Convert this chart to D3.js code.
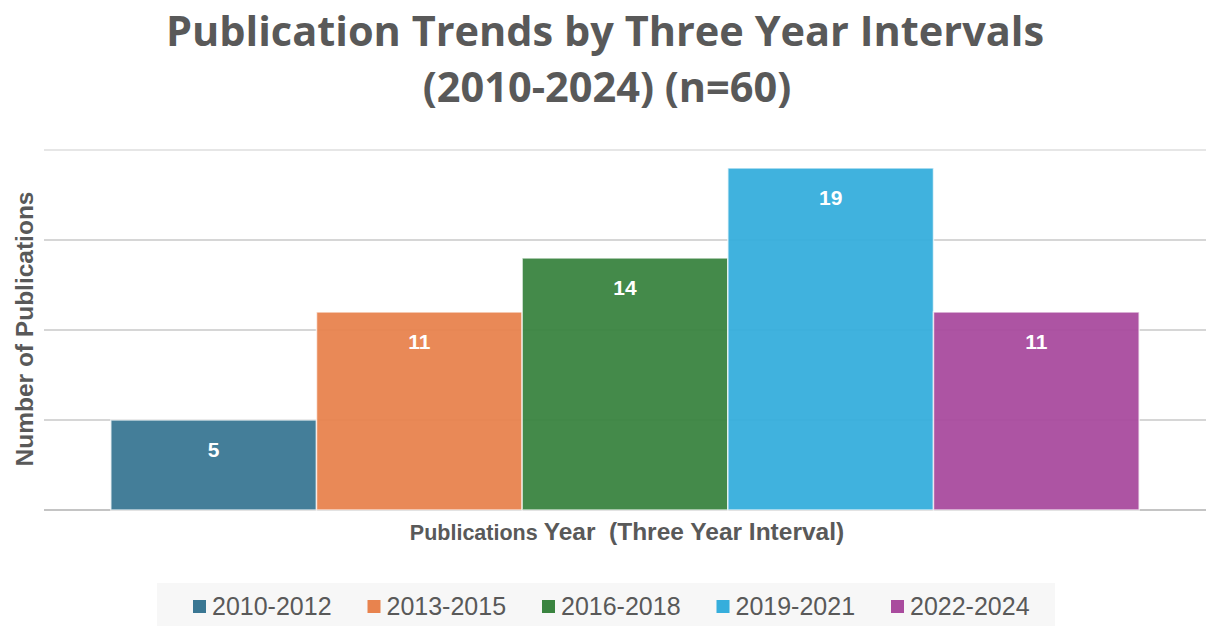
<!DOCTYPE html>
<html>
<head>
<meta charset="utf-8">
<script src="https://cdn.jsdelivr.net/npm/d3@7"></script>
<style>
  html, body { margin: 0; padding: 0; background: #ffffff; }
  svg { display: block; }
</style>
</head>
<body>
<svg id="chart" width="1206" height="626"></svg>
<script>
// Publication counts per three-year interval
const intervals = ["2010-2012", "2013-2015", "2016-2018", "2019-2021", "2022-2024"];
const counts = [5, 11, 14, 19, 11];
const barColors = ["#3a7793", "#e8834e", "#3a8440", "#36aedc", "#a94b9e"];
const yTicks = [0, 5, 10, 15, 20];

const textColor = "#595959";
const titleFont = "'Open Sans', 'Liberation Sans', sans-serif";
const font = "'Liberation Sans', Arial, sans-serif";

const svg = d3.select("#chart");

const plot = { left: 44, right: 1206, top: 150, bottom: 510 };

const x = d3.scaleBand()
  .domain(intervals)
  .range([plot.left, plot.right])
  .paddingInner(0)
  .paddingOuter(0.325);

const y = d3.scaleLinear()
  .domain([0, 20])
  .range([plot.bottom, plot.top]);

// Title
const title = svg.append("text")
  .attr("text-anchor", "middle")
  .attr("font-family", titleFont)
  .attr("font-weight", 700)
  .attr("font-size", 41.5)
  .attr("fill", textColor);
title.append("tspan").attr("x", 605).attr("y", 46).text("Publication Trends by Three Year Intervals");
title.append("tspan").attr("x", 607).attr("y", 102).text("(2010-2024) (n=60)");

// Horizontal gridlines
svg.append("g")
  .selectAll("line")
  .data(yTicks)
  .join("line")
  .attr("x1", plot.left)
  .attr("x2", plot.right)
  .attr("y1", d => y(d))
  .attr("y2", d => y(d))
  .attr("stroke", d => d === 20 ? "#e6e6e6" : (d === 0 ? "#c4c4c4" : "#d6d6d6"))
  .attr("stroke-width", 2);

// Bars
svg.append("g")
  .selectAll("rect")
  .data(intervals)
  .join("rect")
  .attr("x", d => x(d))
  .attr("width", x.bandwidth())
  .attr("y", (d, i) => y(counts[i]))
  .attr("height", (d, i) => y(0) - y(counts[i]))
  .attr("fill", (d, i) => barColors[i])
  .attr("fill-opacity", 0.95)
  .attr("stroke", "#ffffff")
  .attr("stroke-opacity", 0.7)
  .attr("stroke-width", 1.5);

// Value labels inside bars
svg.append("g")
  .selectAll("text")
  .data(intervals)
  .join("text")
  .attr("x", d => x(d) + x.bandwidth() / 2)
  .attr("y", (d, i) => y(counts[i]) + 37)
  .attr("text-anchor", "middle")
  .attr("font-family", font)
  .attr("font-weight", 700)
  .attr("font-size", 21)
  .attr("fill", "#ffffff")
  .text((d, i) => counts[i]);

// Y axis title
svg.append("text")
  .attr("transform", "translate(33,329) rotate(-90)")
  .attr("text-anchor", "middle")
  .attr("font-family", font)
  .attr("font-weight", 700)
  .attr("font-size", 24.5)
  .attr("fill", textColor)
  .text("Number of Publications");

// X axis title
const xt = svg.append("text")
  .attr("x", 627)
  .attr("y", 540)
  .attr("text-anchor", "middle")
  .attr("font-family", font)
  .attr("font-weight", 700)
  .attr("fill", textColor)
  .style("white-space", "pre");
xt.append("tspan").attr("font-size", 21.5).text("Publications ");
xt.append("tspan").attr("font-size", 24.5).text("Year  (Three Year Interval)");

// Legend
const legend = svg.append("g");
legend.append("rect")
  .attr("x", 157).attr("y", 583)
  .attr("width", 898).attr("height", 43)
  .attr("fill", "#f7f7f7");

const legendX = d3.scalePoint()
  .domain(intervals)
  .range([193, 891]);

const items = legend.selectAll("g.item")
  .data(intervals)
  .join("g")
  .attr("class", "item")
  .attr("transform", d => `translate(${legendX(d)},606)`);

items.append("rect")
  .attr("x", 0).attr("y", -6)
  .attr("width", 13).attr("height", 13)
  .attr("fill", (d, i) => barColors[i]);

items.append("text")
  .attr("x", 19).attr("y", 9)
  .attr("font-family", font)
  .attr("font-size", 25)
  .attr("fill", textColor)
  .text(d => d);
</script>
</body>
</html>
